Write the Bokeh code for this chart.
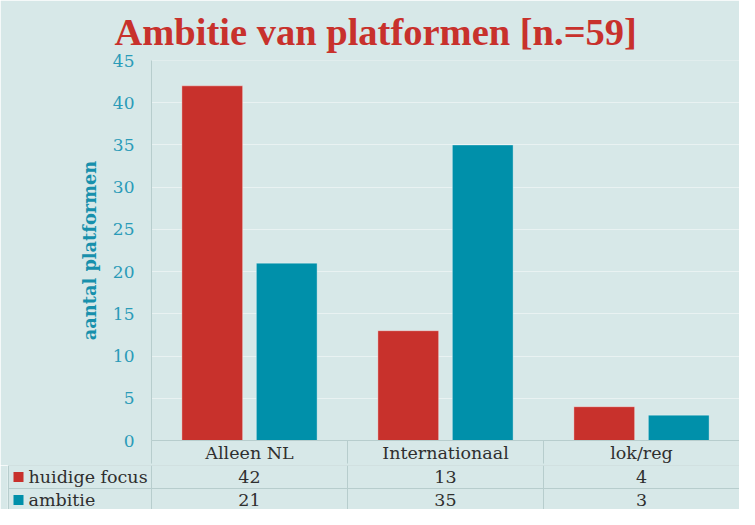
from bokeh.plotting import figure
from bokeh.layouts import column
from bokeh.models import Range1d, FixedTicker, ColumnDataSource, LinearAxis
from bokeh.core.properties import value
from bokeh.embed import file_html
from bokeh.resources import INLINE

# ---- data ----
categories = ["Alleen NL", "Internationaal", "lok/reg"]
huidige_focus = [42, 13, 4]
ambitie = [21, 35, 3]
series_names = ["huidige focus", "ambitie"]
y_ticks = [0, 5, 10, 15, 20, 25, 30, 35, 40, 45]
title_text = "Ambitie van platformen [n.=59]"
y_label = "aantal platformen"

# ---- style ----
BG = "#D7E8E8"
RED = "#C8312C"
TEAL = "#0090AA"
TICK_TEAL = "#2A9BB8"
LABEL_TEAL = "#1790AC"
TEXT = "#2F2F2F"
LINE = "#B7CDCD"
SERIF = "DejaVu Serif"
FS = "17.5px"

W = 739
LEFT = 151
FRAME_TOP = 60
CHART_PX = 382          # height of 0..45
ROW_PX = 23
TOP_H = FRAME_TOP + CHART_PX + ROW_PX
BOT_H = 509 - TOP_H
N = len(categories)
PX_PER_CAT = (W - LEFT) / N
YMAX = y_ticks[-1]
DODGE = 0.19
BAR_W = 0.31

# category slots on a numeric axis: category i occupies [i, i+1]
cx = [i + 0.5 for i in range(N)]

# ---------------- chart + category row ----------------
src = ColumnDataSource(dict(
    x_hf=[c - DODGE for c in cx], x_am=[c + DODGE for c in cx],
    hf=huidige_focus, am=ambitie))

p1 = figure(x_range=Range1d(0, N), y_range=Range1d(0, YMAX),
            width=W, height=TOP_H, x_axis_type=None,
            output_backend="svg", toolbar_location=None,
            min_border_left=LEFT, min_border_right=0,
            min_border_top=FRAME_TOP, min_border_bottom=ROW_PX)
p1.frame_align = False
p1.background_fill_color = BG
p1.border_fill_color = BG
p1.outline_line_color = None

p1.ygrid.ticker = FixedTicker(ticks=y_ticks)
p1.ygrid.grid_line_color = "white"
p1.ygrid.grid_line_alpha = 0.45
p1.xgrid.grid_line_color = None

p1.vbar(x="x_hf", top="hf", width=BAR_W, source=src,
        fill_color=RED, line_color="white", line_alpha=0.35, line_width=1)
p1.vbar(x="x_am", top="am", width=BAR_W, source=src,
        fill_color=TEAL, line_color="white", line_alpha=0.35, line_width=1)

ax = p1.yaxis[0]
ax.ticker = FixedTicker(ticks=y_ticks)
ax.major_tick_line_color = None
ax.minor_tick_line_color = None
ax.axis_line_color = LINE
ax.major_label_text_font = SERIF
ax.major_label_text_font_size = "17px"
ax.major_label_text_color = TICK_TEAL
ax.major_label_standoff = 11
ax.axis_label = y_label
ax.axis_label_text_font = SERIF
ax.axis_label_text_font_size = "17.8px"
ax.axis_label_text_font_style = "bold"
ax.axis_label_text_color = LABEL_TEAL
ax.axis_label_standoff = 10

# category row of the data table, as an axis below the bars
xa = LinearAxis(ticker=FixedTicker(ticks=cx, minor_ticks=list(range(N + 1))),
                major_label_overrides={c: lab for c, lab in zip(cx, categories)})
xa.axis_line_color = LINE
xa.major_tick_line_color = None
xa.major_tick_out = 0
xa.major_tick_in = 0
xa.minor_tick_line_color = LINE
xa.minor_tick_out = ROW_PX
xa.minor_tick_in = 0
xa.major_label_standoff = 2 - ROW_PX
xa.major_label_text_font = SERIF
xa.major_label_text_font_size = FS
xa.major_label_text_color = TEXT
p1.add_layout(xa, "below")

p1.title.text = title_text
p1.title.text_font = "Liberation Serif"
p1.title.text_font_size = "38.5px"
p1.title.text_font_style = "bold"
p1.title.text_color = RED
p1.title.align = "left"
p1.title.offset = -37
p1.title.standoff = 15

# ---------------- data rows ----------------
font = value(SERIF)
x0 = (7 - LEFT) / PX_PER_CAT            # frame start
leg_left = (8 - LEFT) / PX_PER_CAT      # legend column border
sq_x = (18 - LEFT) / PX_PER_CAT
txt_x = (28 - LEFT) / PX_PER_CAT
bottom = BOT_H / ROW_PX

p2 = figure(x_range=Range1d(x0, N), y_range=Range1d(bottom, 0),
            width=W, height=BOT_H, x_axis_type=None, y_axis_type=None,
            output_backend="svg", toolbar_location=None,
            min_border_left=7, min_border_right=0,
            min_border_top=0, min_border_bottom=0)
p2.frame_align = False
p2.background_fill_color = BG
p2.border_fill_color = BG
p2.outline_line_color = None
p2.grid.visible = False

p2.segment(x0=[leg_left, leg_left], y0=[0, 1], x1=[N, N], y1=[0, 1],
           line_color=LINE, line_width=1)
vx2 = list(range(N)) + [leg_left]
p2.segment(x0=vx2, y0=[0] * len(vx2), x1=vx2, y1=[bottom] * len(vx2),
           line_color=LINE, line_width=1)

p2.text(x=cx, y=[0.5] * N, text=[str(v) for v in huidige_focus], text_font=font,
        text_font_size=FS, text_color=TEXT, text_align="center", text_baseline="middle")
p2.text(x=cx, y=[1.5] * N, text=[str(v) for v in ambitie], text_font=font,
        text_font_size=FS, text_color=TEXT, text_align="center", text_baseline="middle")

p2.scatter(x=[sq_x, sq_x], y=[0.5, 1.5], marker="square", size=10,
           fill_color=[RED, TEAL], line_color=None)
p2.text(x=[txt_x, txt_x], y=[0.5, 1.5], text=series_names, text_font=font,
        text_font_size=FS, text_color=TEXT, text_align="left", text_baseline="middle")

layout = column(p1, p2, spacing=0)
open("out.html", "w").write(file_html(layout, INLINE))
